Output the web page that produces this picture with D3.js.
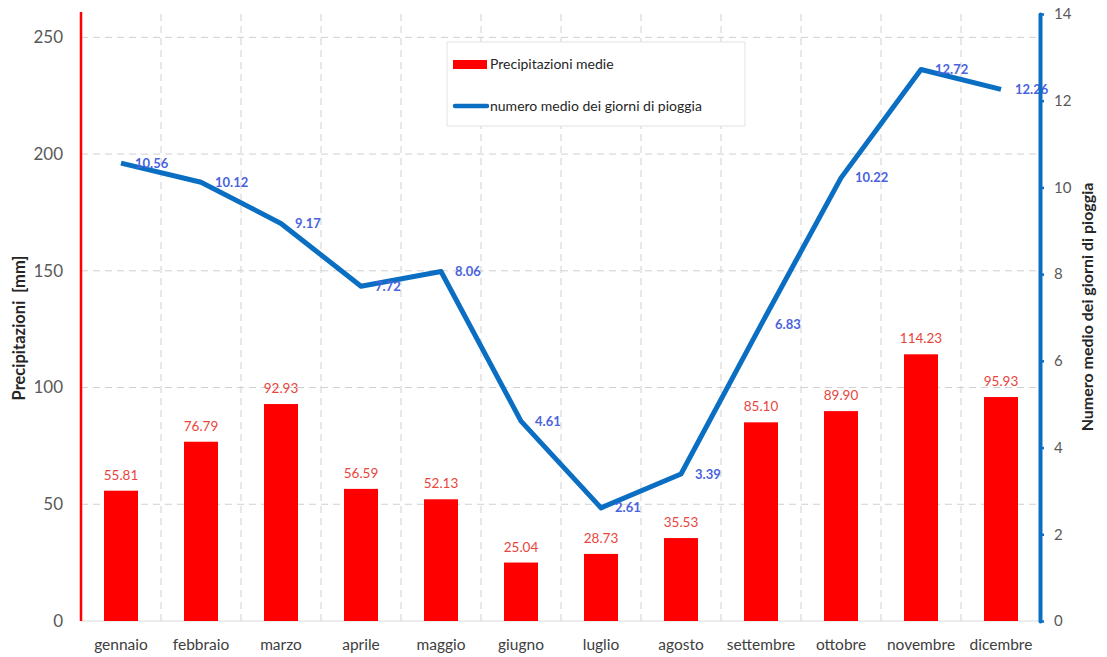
<!DOCTYPE html>
<html>
<head>
<meta charset="utf-8">
<script src="https://cdn.jsdelivr.net/npm/d3@7"></script>
<style>
  body { margin: 0; background: #fff; }
  svg { display: block; font-family: Lato, "Open Sans", sans-serif; }
</style>
</head>
<body>
<svg id="chart" width="1107" height="657"></svg>
<script>
// Monthly averages
const months = ["gennaio","febbraio","marzo","aprile","maggio","giugno","luglio","agosto","settembre","ottobre","novembre","dicembre"];
const rainfall = [55.81, 76.79, 92.93, 56.59, 52.13, 25.04, 28.73, 35.53, 85.10, 89.90, 114.23, 95.93];
const rainyDays = [10.56, 10.12, 9.17, 7.72, 8.06, 4.61, 2.61, 3.39, 6.83, 10.22, 12.72, 12.26];
const leftTicks = [0, 50, 100, 150, 200, 250];
const rightTicks = [0, 2, 4, 6, 8, 10, 12, 14];

const svg = d3.select("#chart");
const m = { left: 81, right: 1041, top: 14, bottom: 621 };

const x = d3.scaleBand().domain(months).range([m.left, m.right]).paddingInner(0).paddingOuter(0);
const yL = d3.scaleLinear().domain([0, 260]).range([m.bottom, m.top]);
const yR = d3.scaleLinear().domain([0, 14]).range([m.bottom, m.top]);

// Grid
const grid = svg.append("g");
grid.selectAll("line.h").data(leftTicks.filter(d => d > 0)).join("line")
  .attr("x1", m.left).attr("x2", m.right)
  .attr("y1", d => yL(d)).attr("y2", d => yL(d))
  .attr("stroke", "#d0d0d0").attr("stroke-width", 1).attr("stroke-dasharray", "7,5");
grid.selectAll("line.v").data(months.slice(1)).join("line")
  .attr("x1", d => x(d)).attr("x2", d => x(d))
  .attr("y1", m.top).attr("y2", m.bottom)
  .attr("stroke", "#d0d0d0").attr("stroke-width", 1).attr("stroke-dasharray", "7,5");
svg.append("line").attr("x1", m.left).attr("x2", m.right)
  .attr("y1", m.bottom).attr("y2", m.bottom).attr("stroke", "#d9d9d9");

// Bars
const bw = 34;
svg.append("g").selectAll("rect").data(rainfall).join("rect")
  .attr("x", (d, i) => x(months[i]) + x.bandwidth() / 2 - bw / 2)
  .attr("width", bw)
  .attr("y", d => yL(d))
  .attr("height", d => yL(0) - yL(d))
  .attr("fill", "#ff0000");

svg.append("g").selectAll("text").data(rainfall).join("text")
  .attr("x", (d, i) => x(months[i]) + x.bandwidth() / 2)
  .attr("y", d => yL(d) - 11)
  .attr("text-anchor", "middle")
  .attr("font-size", 13.5)
  .attr("fill", "#e8453c")
  .text(d => d.toFixed(2));

// Line
const line = d3.line()
  .x((d, i) => x(months[i]) + x.bandwidth() / 2)
  .y(d => yR(d));
svg.append("path").datum(rainyDays)
  .attr("d", line)
  .attr("fill", "none")
  .attr("stroke", "#0a6fc2")
  .attr("stroke-width", 5)
  .attr("stroke-linejoin", "round");

svg.append("g").selectAll("text").data(rainyDays).join("text")
  .attr("x", (d, i) => x(months[i]) + x.bandwidth() / 2 + 14)
  .attr("y", d => yR(d))
  .attr("dy", "0.35em")
  .attr("font-size", 13)
  .attr("font-weight", "bold")
  .attr("fill", "#4a63dd")
  .text(d => d.toFixed(2));

// Left axis
const axL = svg.append("g").attr("transform", `translate(${m.left},0)`)
  .call(d3.axisLeft(yL).tickValues(leftTicks).tickSize(0).tickPadding(18));
axL.select(".domain").remove();
axL.selectAll("text").attr("font-size", 17).attr("fill", "#595959").attr("font-family", "Lato, sans-serif");
svg.append("line").attr("x1", m.left).attr("x2", m.left)
  .attr("y1", 12).attr("y2", m.bottom)
  .attr("stroke", "#ff0000").attr("stroke-width", 2.5);

// Right axis
const axR = svg.append("g").attr("transform", `translate(${m.right - 1},0)`)
  .call(d3.axisRight(yR).tickValues(rightTicks).tickSize(4).tickSizeOuter(0).tickPadding(10));
axR.select(".domain").attr("stroke", "#0a6fc2").attr("stroke-width", 4).attr("stroke-linecap", "round");
axR.selectAll(".tick line").attr("stroke", "#0a6fc2").attr("stroke-width", 2.5);
axR.selectAll("text").attr("font-size", 15).attr("fill", "#595959").attr("font-family", "Lato, sans-serif");

// Category labels
svg.append("g").selectAll("text").data(months).join("text")
  .attr("x", d => x(d) + x.bandwidth() / 2)
  .attr("y", 650)
  .attr("text-anchor", "middle")
  .attr("font-size", 15.5)
  .attr("fill", "#404040")
  .text(d => d);

// Axis titles
svg.append("text")
  .attr("transform", "translate(25,328) rotate(-90)")
  .attr("text-anchor", "middle")
  .attr("font-size", 16.5).attr("font-weight", "bold").attr("fill", "#262626")
  .attr("xml:space", "preserve")
  .text("Precipitazioni  [mm]");
svg.append("text")
  .attr("transform", "translate(1093,307) rotate(-90)")
  .attr("text-anchor", "middle")
  .attr("font-size", 16).attr("font-weight", "bold").attr("fill", "#262626")
  .text("Numero medio dei giorni di pioggia");

// Legend
const lg = svg.append("g");
lg.append("rect").attr("x", 447).attr("y", 42).attr("width", 298).attr("height", 84)
  .attr("fill", "#fff").attr("stroke", "#e3e3e3");
lg.append("rect").attr("x", 453).attr("y", 60).attr("width", 34).attr("height", 9).attr("fill", "#ff0000");
lg.append("text").attr("x", 490).attr("y", 64.5).attr("dy", "0.35em")
  .attr("font-size", 14).attr("fill", "#262626").text("Precipitazioni medie");
lg.append("line").attr("x1", 455).attr("x2", 487).attr("y1", 106).attr("y2", 106)
  .attr("stroke", "#0a6fc2").attr("stroke-width", 4.5).attr("stroke-linecap", "round");
lg.append("text").attr("x", 490).attr("y", 106).attr("dy", "0.35em")
  .attr("font-size", 14).attr("fill", "#262626").text("numero medio dei giorni di pioggia");
</script>
</body>
</html>
